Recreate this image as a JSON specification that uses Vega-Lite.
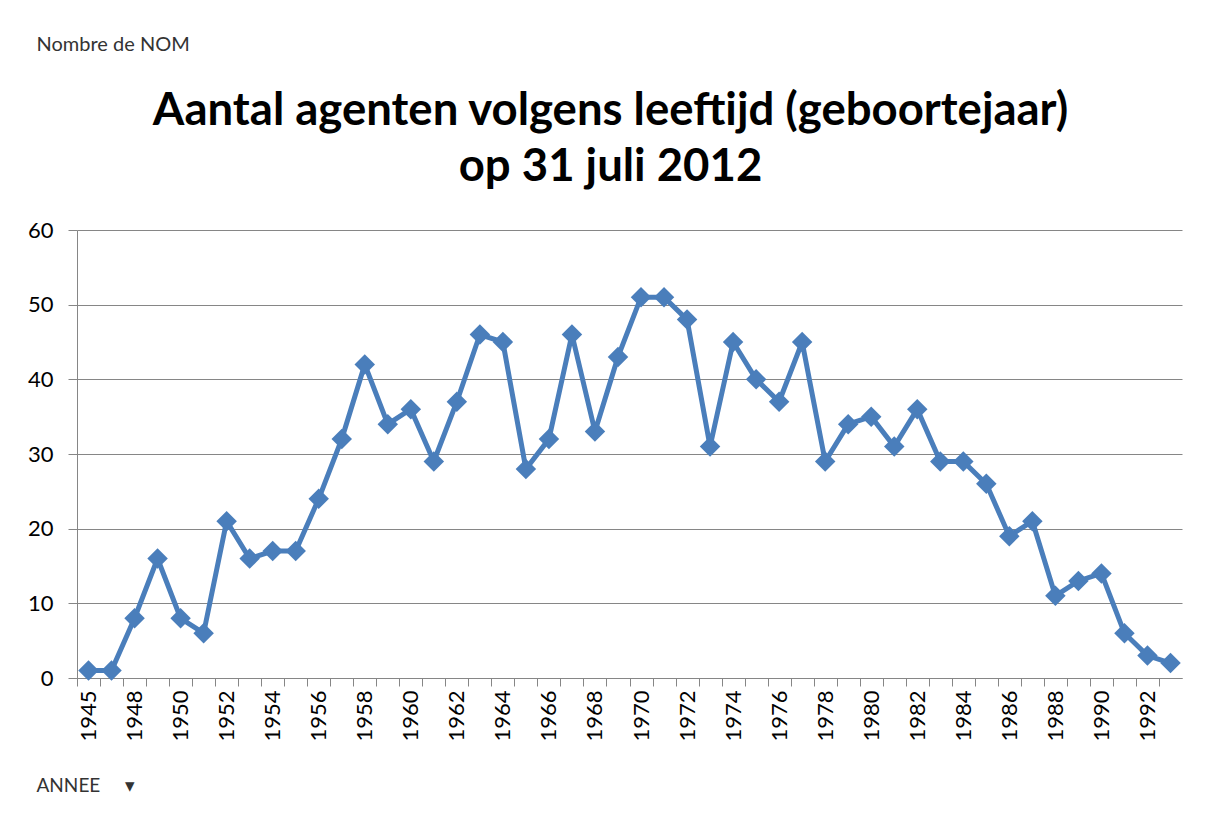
{
  "$schema": "https://vega.github.io/schema/vega-lite/v6.json",
  "width": 1105,
  "height": 448,
  "autosize": {"type": "none"},
  "padding": {"left": 77, "top": 230, "right": 23, "bottom": 138},
  "background": "white",
  "title": {
    "text": ["Aantal agenten volgens leeftijd (geboortejaar)", "op 31 juli 2012"],
    "font": "Lato",
    "fontWeight": "bold",
    "fontSize": 45.5,
    "lineHeight": 56,
    "color": "#000000",
    "anchor": "middle",
    "baseline": "alphabetic",
    "dx": -19,
    "dy": 192,
    "offset": 0
  },
  "data": {
    "values": [
      {"year": "1945", "n": 1}, {"year": "1947", "n": 1}, {"year": "1948", "n": 8}, {"year": "1949", "n": 16},
      {"year": "1950", "n": 8}, {"year": "1951", "n": 6}, {"year": "1952", "n": 21}, {"year": "1953", "n": 16},
      {"year": "1954", "n": 17}, {"year": "1955", "n": 17}, {"year": "1956", "n": 24}, {"year": "1957", "n": 32},
      {"year": "1958", "n": 42}, {"year": "1959", "n": 34}, {"year": "1960", "n": 36}, {"year": "1961", "n": 29},
      {"year": "1962", "n": 37}, {"year": "1963", "n": 46}, {"year": "1964", "n": 45}, {"year": "1965", "n": 28},
      {"year": "1966", "n": 32}, {"year": "1967", "n": 46}, {"year": "1968", "n": 33}, {"year": "1969", "n": 43},
      {"year": "1970", "n": 51}, {"year": "1971", "n": 51}, {"year": "1972", "n": 48}, {"year": "1973", "n": 31},
      {"year": "1974", "n": 45}, {"year": "1975", "n": 40}, {"year": "1976", "n": 37}, {"year": "1977", "n": 45},
      {"year": "1978", "n": 29}, {"year": "1979", "n": 34}, {"year": "1980", "n": 35}, {"year": "1981", "n": 31},
      {"year": "1982", "n": 36}, {"year": "1983", "n": 29}, {"year": "1984", "n": 29}, {"year": "1985", "n": 26},
      {"year": "1986", "n": 19}, {"year": "1987", "n": 21}, {"year": "1988", "n": 11}, {"year": "1989", "n": 13},
      {"year": "1990", "n": 14}, {"year": "1991", "n": 6}, {"year": "1992", "n": 3}, {"year": "1993", "n": 2}
    ]
  },
  "encoding": {
    "x": {
      "field": "year",
      "type": "ordinal",
      "sort": null,
      "scale": {"type": "point", "padding": 0.5},
      "axis": {
        "title": "ANNEE\u00a0\u00a0\u00a0\u00a0\u00a0▾",
        "titleFont": "Lato",
        "titleFontSize": 19,
        "titleFontWeight": "normal",
        "titleColor": "#333333",
        "titleAlign": "left",
        "titleBaseline": "middle",
        "titleAngle": 0,
        "titleX": -41,
        "titleY": 107,
        "labelAngle": -90,
        "labelAlign": "right",
        "labelBaseline": "middle",
        "labelFont": "Lato",
        "labelFontSize": 22,
        "labelColor": "#000000",
        "labelPadding": 4,
        "labelOverlap": false,
        "labelExpr": "datum.value == '1945' || (toNumber(datum.value) >= 1948 && toNumber(datum.value) % 2 == 0) ? datum.label : ''",
        "tickOffset": -11.5,
        "labelOffset": 11.5,
        "tickSize": 8,
        "tickColor": "#868686",
        "domainColor": "#868686",
        "grid": false
      }
    },
    "y": {
      "field": "n",
      "type": "quantitative",
      "scale": {"domain": [0, 60], "nice": false},
      "axis": {
        "values": [0, 10, 20, 30, 40, 50, 60],
        "title": "Nombre de NOM",
        "titleFont": "Lato",
        "titleFontSize": 20,
        "titleFontWeight": "normal",
        "titleColor": "#333333",
        "titleAlign": "left",
        "titleBaseline": "middle",
        "titleAngle": 0,
        "titleX": -41,
        "titleY": -186,
        "labelFont": "Lato",
        "labelFontSize": 22,
        "labelColor": "#000000",
        "labelPadding": 15,
        "tickSize": 9,
        "tickColor": "#868686",
        "domainColor": "#868686",
        "gridColor": "#868686",
        "gridWidth": 1
      }
    }
  },
  "layer": [
    {"mark": {"type": "line", "color": "#4A7EBB", "strokeWidth": 5}},
    {"mark": {"type": "point", "shape": "diamond", "filled": true, "size": 420, "color": "#4A7EBB", "opacity": 1}}
  ],
  "config": {"view": {"stroke": null}}
}
